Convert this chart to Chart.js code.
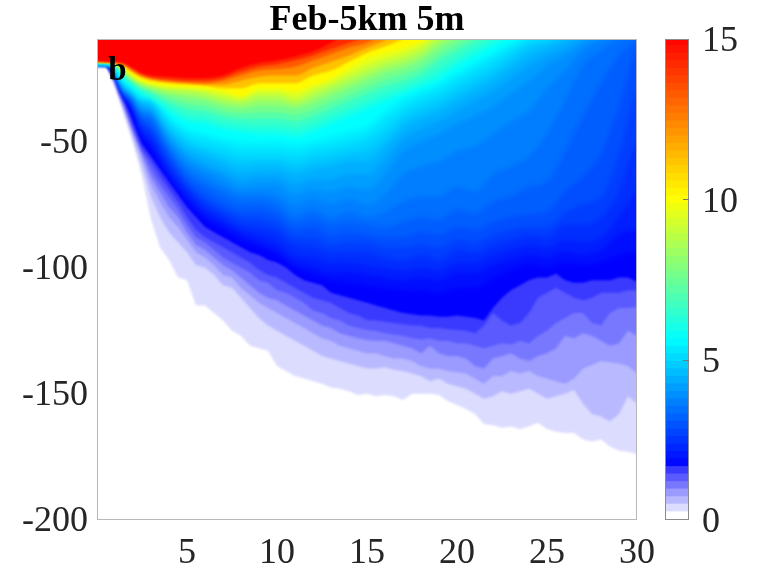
<!DOCTYPE html>
<html><head><meta charset="utf-8">
<script src="https://cdn.jsdelivr.net/npm/chart.js@4"></script>
<style>
html,body{margin:0;padding:0;background:#fff;width:769px;height:575px;overflow:hidden}
canvas{position:absolute;top:0;filter:blur(0.45px)}
#main{left:0}#bar{left:655px}
</style></head><body>
<canvas id="main" width="769" height="575"></canvas>
<canvas id="bar" width="114" height="575"></canvas>
<script>
const titleText = 'Feb-5km 5m';
const panelLetter = 'b';
const xTicks = [5,10,15,20,25,30];
const yTicks = [-50,-100,-150,-200];
const barTicks = [0,5,10,15];

// distance (km) columns for the warm / cyan / sky-blue isolines
const xUpper = [-0.5,0.8,1.5,2,2.5,3,4,5,6,7,8,9,10,11,12,13,14,15,16,17,18,19,20,21,22,23,24,25,26,27,28,29,30,30.5];
// depth (m) at which the field falls below each value
const d14_8 = [-18,-18.5,-19,-21,-23,-24,-24.5,-25,-25,-24,-21,-19,-18,-16.5,-14.5,-11,-7,-5];
const d14 = [-18.1,-18.6,-19.3,-21.5,-23.5,-24.6,-25.5,-26,-26,-25,-22.5,-20.5,-19.5,-18,-16,-13.5,-11,-8.5,-5];
const d13 = [-18.2,-18.6,-19.6,-22,-24,-25,-26,-26.5,-27,-26,-24,-22,-21.5,-20.5,-18,-15.5,-13,-11,-7.5,-5];
const d12 = [-18.3,-18.7,-20,-22.5,-24.5,-25.5,-26.5,-27,-27.5,-27.5,-26,-24.5,-24,-24,-21,-18.5,-16,-13,-10,-5];
const d11 = [-18.4,-18.7,-20.4,-23,-25,-26,-27,-27.5,-28,-29,-29,-27,-27,-27,-24,-22,-18.5,-15,-12.5,-9.5,-6,-5];
const d10 = [-18.4,-18.8,-21,-24,-26,-27,-28,-28.5,-29,-30,-32,-29,-29,-30,-27.5,-25,-21,-17,-15,-13,-10.5,-6,-5];
const d9_5 = [-18.45,-18.8,-21.5,-24.5,-26.5,-27.5,-28.8,-29.2,-30,-31.5,-33,-30.5,-30.5,-32,-29,-26.5,-23,-19.5,-17,-15,-12,-7.5,-5];
const d9 = [-18.5,-18.8,-22,-25,-27,-28,-29.5,-30,-31,-33,-34,-32,-32,-34,-31,-28,-25,-22,-19,-17,-14,-9,-6,-5];
const d8_5 = [-18.5,-18.85,-22.5,-25.5,-27.5,-28.7,-30.5,-31.5,-32.5,-34.5,-35.5,-34,-34,-35.5,-33,-30,-27,-24,-21,-19,-16,-11,-7.5,-5];
const d8 = [-18.5,-18.9,-23,-26,-28,-29.5,-31.5,-33,-34,-36,-37,-36,-36,-37,-35,-32,-29,-26,-23,-21,-18,-13,-9,-6,-5];
const d7_5 = [-18.55,-18.9,-23.5,-26.5,-28.7,-30,-33,-35,-36,-38,-39,-38.5,-38.5,-39.5,-37.5,-34.5,-31.5,-28.5,-25.5,-23.5,-20.5,-15.5,-11.5,-8,-5];
const d7 = [-18.6,-18.9,-24,-27,-29.5,-31,-34.5,-37,-38,-40,-41,-41,-41,-42,-40,-37,-34,-31,-28,-26,-23,-18,-14,-10,-6,-5];
const d6_5 = [-18.6,-18.95,-24.5,-27.5,-30,-32,-36,-39.5,-40.5,-42.5,-43.5,-44,-44,-45,-43,-40,-37,-34,-31,-28.5,-25.5,-21.5,-17,-13,-9,-6,-5];
const d6 = [-18.6,-19,-25,-28,-31,-33,-38,-42,-43,-45,-46,-47,-47,-48,-46,-43,-40,-37,-34,-31,-28,-25,-20,-16,-12,-8,-5];
const d5_6 = [-18.7,-19,-26,-29,-32,-32,-40,-45,-47,-49,-50,-50.5,-50,-51,-50,-48,-46,-44,-38,-33,-30,-27,-23,-19,-15,-11,-8,-6,-5];
const d5_35 = [-18.7,-19,-26.5,-29.5,-32.5,-33,-41,-47,-49,-51,-53,-53,-53,-54,-52,-51,-49,-47,-41,-36,-32,-29,-25,-21,-17,-13,-9,-7,-5];
const d5_1 = [-18.7,-19.1,-27,-30,-33.5,-34,-43,-49,-52,-54,-56,-56,-56,-57,-55,-54,-52,-50,-45,-39,-35,-32,-28,-24,-20,-15,-11,-9,-6,-5];
const d4_85 = [-18.8,-19.1,-27.5,-30.5,-34,-35,-44.5,-51,-54,-56.5,-59,-58,-58,-60,-58,-57,-55,-54,-49,-42,-38,-35,-31,-27,-23,-18,-13,-11,-8,-5];
const d4_6 = [-18.8,-19.1,-28,-31,-35,-36,-46,-53,-56,-59,-62,-61,-61,-63,-61,-60,-58,-58,-52,-45,-41,-38,-34,-30,-26,-21,-16,-13,-10,-7,-5];
const d4_35 = [-18.9,-19.2,-28.5,-31.5,-36,-37,-47.5,-55,-59,-62,-65,-64,-64,-67,-65,-65,-63,-63,-57,-49,-45,-42,-38,-34,-30,-25,-20,-16,-13,-9,-6,-5];
const d4_1 = [-18.9,-19.2,-29,-32,-37,-38,-49,-57,-61,-64,-68,-67,-67,-71,-69,-70,-68,-69,-63,-54,-50,-47,-43,-40,-36,-31,-26,-20,-16,-11,-8,-5];
const d3_85 = [-19,-19.2,-29.2,-32.5,-38,-39,-50.5,-59,-63,-67,-70,-70,-71,-75,-73,-75,-73,-75,-71,-63,-60,-58,-54,-52,-47,-42,-38,-29,-22,-14,-10,-7,-5];
const d3_6 = [-19,-19.2,-29.5,-33,-39,-40,-52,-61,-66,-69,-72,-72,-74,-79,-77,-80,-78,-80,-78,-74,-72,-72,-68,-70,-63,-60,-56,-47,-34,-20,-14,-9,-6,-5];
const d3_35 = [-19.1,-19.3,-30,-34,-40,-42,-53.5,-63,-68,-72,-75,-75,-77,-82,-80,-83,-82,-83,-84,-82,-80,-81,-77,-79,-74,-72,-68,-66,-54,-40,-27,-16,-10,-7];
const d3_1 = [-19.1,-19.3,-30,-34,-41,-44,-55,-65,-71,-75,-78,-78,-80,-85,-84,-87,-86,-87,-88,-88,-86,-87,-84,-85,-82,-80,-79,-78,-70,-64,-55,-36,-14,-12];
const d2_85 = [-19.2,-19.4,-30.5,-35,-42.5,-45,-57,-66.5,-73,-77,-80,-81,-83,-88,-88,-91,-90,-90,-92,-92,-91,-92,-89,-90,-87,-85,-84,-84,-78,-75,-72,-55,-30,-28];
const d2_6 = [-19.2,-19.4,-31,-36,-44,-47,-59,-68,-75,-79,-83,-84,-86,-91,-92,-94,-94,-94,-96,-97,-95,-97,-93,-94,-91,-89,-87,-88,-83,-83,-80,-70,-50,-48];
const d2_35 = [-19.3,-19.4,-31.5,-36.5,-45.5,-49,-61,-70,-77,-81,-85,-87,-90,-95,-96,-98,-98,-99,-100,-101,-100,-101,-98,-98,-95,-93,-91,-92,-89,-90,-88,-80,-70,-68];
const d2_1 = [-19.3,-19.5,-32,-37,-47,-51,-63,-72,-79,-83,-87,-90,-93,-98,-100,-102,-102,-103,-104,-105,-104,-105,-102,-102,-99,-97,-95,-96,-94,-95,-93,-87,-85,-85];
const d1_85 = [-19.4,-19.5,-32.5,-38,-48,-53,-64.5,-74,-81,-85,-89,-92,-95,-100,-103,-105,-106,-107,-108,-109,-109,-110,-108,-108,-104,-101,-99,-100,-98,-99,-98,-95,-94,-94];

// half-km columns for the stepped pale bands
const xLower = [-0.5,0.5,1,1.5,2,2.5,3,3.5,4,4.5,
 5,5.5,6,6.5,7,7.5,8,8.5,9,9.5,
 10,10.5,11,11.5,12,12.5,13,13.5,14,14.5,
 15,15.5,16,16.5,17,17.5,18,18.5,19,19.5,
 20,20.5,21,21.5,22,22.5,23,23.5,24,24.5,
 25,25.5,26,26.5,27,27.5,28,28.5,29,29.5,
 30,30.5];
const d1_64 = [-19.4,-19.5,-24,-33,-42,-51,-56,-61,-66,-71,
 -76,-80,-84,-86,-88,-90,-92,-94,-95,-97,
 -98,-100,-103,-105,-106,-107,-110,-111,-112,-113,
 -114,-115,-116,-117,-118,-118.5,-119,-119,-119.5,-119.5,
 -119,-119.5,-120,-121,-116,-112,-109,-107,-105,-104,
 -104,-102.5,-105,-106,-106,-105,-105,-105,-104,-104,
 -105.6,-105.6];
const d1_41 = [-19.5,-19.6,-25,-34,-44,-53,-58,-64,-69,-74,
 -80,-85,-88,-90,-92,-94,-96,-98,-101,-103,
 -104,-106,-108,-110,-112,-113,-114,-116,-118,-119,
 -120.8,-121,-121.5,-122,-122.5,-123,-123,-124,-124,-124.5,
 -124.7,-125,-126,-123,-118,-121,-123,-122,-118,-112,
 -110,-108,-110,-112,-113,-112,-110,-110,-110,-109,
 -109,-109];
const d1_17 = [-19.6,-19.7,-26,-35,-45,-54,-61,-67,-72,-77,
 -83,-88,-90,-93,-96,-98,-100,-102,-105,-106,
 -109,-110,-112,-114,-117,-118,-120,-121,-123,-124,
 -124.8,-125,-126,-126.5,-127,-128,-128.5,-128,-129,-129,
 -130,-130,-131,-132,-131,-130,-130.5,-129,-130,-127,
 -125,-122,-120,-118,-118,-122,-123,-118,-116,-116,
 -115.5,-115.5];
const d0_94 = [-19.7,-19.8,-26.5,-36,-46,-55,-64,-70,-76,-80,
 -86,-91,-93,-96,-99,-101,-104,-107,-110,-112,
 -113,-115,-117,-119,-121,-123,-124,-126,-127,-128,
 -128.7,-129,-129,-130,-131,-132,-134,-131,-134,-135,
 -135,-136,-139,-140,-136,-135,-134,-136,-137,-135,
 -134,-132,-127,-128,-126,-127,-129,-131,-130,-125,
 -127,-127];
const d0_70 = [-19.7,-19.8,-27,-37,-47,-57,-67,-74,-80,-84,
 -89,-94,-96,-99,-103,-104,-108,-111,-114,-116,
 -118,-120,-122,-124,-126,-128,-129,-131,-132,-133,
 -134,-134,-135,-136,-136,-137,-139,-140,-140,-141,
 -141.5,-142,-144,-146,-143,-143,-141,-142,-141,-143,
 -144,-145,-146,-144,-140,-138.5,-137,-137.5,-138,-139,
 -141.9,-142];
const d0_47 = [-19.8,-19.9,-28,-38,-49,-60,-72,-80,-86,-90,
 -94,-99,-100,-103,-107,-108,-112,-116,-120,-123,
 -125,-127,-129,-131,-133,-135,-136,-137,-138,-139,
 -140,-140,-139.5,-140.5,-141,-142,-143,-145,-144,-146,
 -147,-148,-150,-152,-151,-149,-150,-149,-148,-150,
 -152,-151,-150,-148.5,-154,-158,-159,-161,-158,-151,
 -154,-154];
const d0_23 = [-19.9,-20,-29,-40,-51,-64,-81,-92,-97,-104,
 -105,-115,-115,-118,-121,-125,-127,-131,-132,-133,
 -139,-141,-143,-144,-145,-146,-147.5,-148,-149,-150.5,
 -150,-151,-150.5,-151,-152.5,-150,-150,-150,-150.5,-153,
 -154.5,-156,-158,-162,-162.5,-163.5,-163,-164,-163,-161.5,
 -164,-165,-165.5,-165.5,-168,-169,-168,-171,-172.5,-173,
 -174,-174];

// colour-bar band edges
const barEdges = [0,.23,.47,.7,.94,1.17,1.41,1.64,1.88,2.11,2.34,2.58,2.81,3.05,3.28,3.52,3.75,3.98,4.22,4.45,4.69,4.92,5.16,5.39,5.63,5.86,6.09,6.33,6.56,6.8,7.03,7.27,7.5,7.73,7.97,8.2,8.44,8.67,8.91,9.14,9.38,9.61,9.84,10.08,10.31,10.55,10.78,11.02,11.25,11.48,11.72,11.95,12.19,12.42,12.66,12.89,13.13,13.36,13.59,13.83,14.06,14.3,14.53,14.77,15];

const paleSteps = ['#ffffff','#dcdcff','#b9b9ff','#9a9aff','#7878ff','#5a5aff','#3a3aff','#1c1cff'];
const stops = [[1.64,0,0,255],[5.6,0,255,255],[7.8,128,255,128],[10,255,255,0],[15,255,0,0]];
function colourAt(v){
  if (v < 1.64) return paleSteps[Math.min(7,Math.floor(v/0.2344))];
  for (let i=1;i<stops.length;i++){
    if (v<=stops[i][0]){
      const a=stops[i-1],b=stops[i],t=(v-a[0])/(b[0]-a[0]);
      return `rgb(${Math.round(a[1]+(b[1]-a[1])*t)},${Math.round(a[2]+(b[2]-a[2])*t)},${Math.round(a[3]+(b[3]-a[3])*t)})`;
    }
  }
  return 'rgb(255,0,0)';
}
const isolines = [
 [15,xUpper,d14_8],[14.2,xUpper,d14],[13.2,xUpper,d13],[12.2,xUpper,d12],[11.2,xUpper,d11],[10.1,xUpper,d10],[9.6,xUpper,d9_5],[9.1,xUpper,d9],[8.6,xUpper,d8_5],[8.1,xUpper,d8],[7.6,xUpper,d7_5],[7.1,xUpper,d7],[6.6,xUpper,d6_5],[6.1,xUpper,d6],
 [5.6,xUpper,d5_6],[5.35,xUpper,d5_35],[5.1,xUpper,d5_1],[4.85,xUpper,d4_85],[4.6,xUpper,d4_6],[4.35,xUpper,d4_35],[4.1,xUpper,d4_1],[3.85,xUpper,d3_85],[3.6,xUpper,d3_6],[3.35,xUpper,d3_35],[3.1,xUpper,d3_1],[2.85,xUpper,d2_85],[2.6,xUpper,d2_6],[2.35,xUpper,d2_35],[2.1,xUpper,d2_1],[1.85,xUpper,d1_85],
 [1.64,xLower,d1_64],[1.5,xLower,d1_41],[1.25,xLower,d1_17],[1.0,xLower,d0_94],[0.8,xLower,d0_70],[0.55,xLower,d0_47],[0.3,xLower,d0_23]
];
const inkColor = '#262626';
const serif = '"Liberation Serif", "Times New Roman", serif';

function blurFor(v){ return (v>=1.8 && v<=6.7) ? 'blur(2.6px)' : 'blur(1.1px)'; }
const softFill = {
  id:'softFill',
  beforeDraw(c){ const t=c.titleBlock,a=c.chartArea; t.left=a.left; t.right=a.right; },
  beforeDatasetsDraw(c){ c.ctx.save(); c.ctx.filter=blurFor(isolines[isolines.length-1][0]); },
  afterDatasetDraw(c,args){ if(args.index>0) c.ctx.filter=blurFor(isolines[args.index-1][0]); },
  afterDatasetsDraw(c){ c.ctx.restore(); }
};
const frame = {
  id:'frame',
  afterDatasetsDraw(c){
    const a=c.chartArea, x=c.ctx;
    x.save(); x.strokeStyle='#b8b8b8'; x.lineWidth=1;
    x.strokeRect(a.left+.5,a.top+.5,a.right-a.left-1,a.bottom-a.top-1);
    x.fillStyle='#000'; x.font='bold 33px '+serif; x.textBaseline='alphabetic';
    x.fillText(panelLetter,c.scales.x.getPixelForValue(0.62),c.scales.y.getPixelForValue(-25.7));
    x.restore();
  }
};
new Chart(document.getElementById('main'),{
  type:'line',
  data:{datasets:isolines.map(([v,xs,ds])=>({
    data:ds.map((y,i)=>({x:xs[i],y})),
    fill:{value:-4},
    backgroundColor:colourAt(v),
    borderColor:'transparent',borderWidth:0,pointRadius:0,
    cubicInterpolationMode:xs===xUpper?'monotone':'default',tension:0
  }))},
  options:{
    responsive:false,animation:false,events:[],
    layout:{padding:{left:0,right:132,top:0,bottom:0}},
    plugins:{legend:{display:false},tooltip:{enabled:false},
      title:{display:true,text:titleText,color:'#000',font:{family:serif,size:36,weight:'bold',lineHeight:1},padding:{top:3,bottom:0}}},
    scales:{
      x:{type:'linear',min:0,max:30,
        afterBuildTicks(s){s.ticks=xTicks.map(v=>({value:v}));},
        afterFit(s){s.height=55;},
        grid:{display:false,drawTicks:false},border:{display:false},
        ticks:{color:inkColor,padding:12,maxRotation:0,autoSkip:false,font:{family:serif,size:36}}},
      y:{type:'linear',min:-200,max:-9.5,
        afterBuildTicks(s){s.ticks=yTicks.map(v=>({value:v}));},
        afterFit(s){s.width=97;},
        grid:{display:false,drawTicks:false},border:{display:false},
        ticks:{color:inkColor,padding:9,labelOffset:2,autoSkip:false,font:{family:serif,size:36}}}
    }
  },
  plugins:[softFill,frame]
});

const barFrame = {
  id:'barFrame',
  afterDatasetsDraw(c){
    const a=c.chartArea,x=c.ctx;
    x.save(); x.strokeStyle='#8c8c8c'; x.lineWidth=1;
    x.strokeRect(a.left+.5,a.top+.5,a.right-a.left-1,a.bottom-a.top-1);
    x.strokeStyle='#777';
    barTicks.slice(1,-1).forEach(v=>{const p=Math.round(c.scales.y.getPixelForValue(v))+.5;x.beginPath();x.moveTo(a.right-6,p);x.lineTo(a.right,p);x.stroke();});
    x.restore();
  }
};
new Chart(document.getElementById('bar'),{
  type:'bar',
  data:{labels:[''],datasets:barEdges.slice(0,-1).map((lo,i)=>({
    data:[[lo,barEdges[i+1]+(i<63?0.03:0)]],
    backgroundColor:colourAt((lo+barEdges[i+1])/2),
    borderWidth:0,barPercentage:1,categoryPercentage:1
  }))},
  options:{
    responsive:false,animation:false,events:[],
    layout:{padding:{left:10,right:0,top:39,bottom:55}},
    plugins:{legend:{display:false},tooltip:{enabled:false}},
    scales:{
      x:{display:false,stacked:true},
      y:{position:'right',min:0,max:15,
        afterBuildTicks(s){s.ticks=barTicks.map(v=>({value:v}));},
        afterFit(s){s.width=80;},
        grid:{display:false,drawTicks:false},border:{display:false},
        ticks:{color:inkColor,padding:13,labelOffset:3,autoSkip:false,font:{family:serif,size:36}}}
    }
  },
  plugins:[barFrame]
});
</script>
</body></html>
